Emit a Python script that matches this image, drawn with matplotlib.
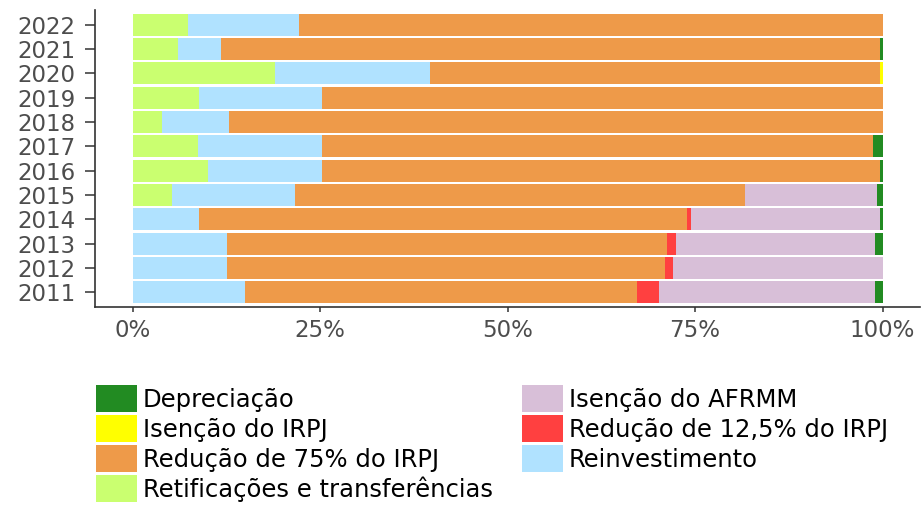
import matplotlib
matplotlib.use("Agg")
import matplotlib.pyplot as plt
from matplotlib.patches import Patch
import numpy as np

plt.rcParams['font.family'] = ['DejaVu Sans']

years = [2011, 2012, 2013, 2014, 2015, 2016, 2017, 2018, 2019, 2020, 2021, 2022]

# shares (%) per category, by year 2011..2022
retificacoes   = [0.0, 0.0, 0.0, 0.0, 5.2, 10.0, 8.7, 3.9, 8.9, 19.0, 6.0, 7.4]
reinvestimento = [15.0, 12.6, 12.6, 8.9, 16.4, 15.3, 16.6, 9.0, 16.4, 20.6, 5.8, 14.8]
reducao75      = [52.3, 58.4, 58.6, 65.0, 60.0, 74.4, 73.4, 87.1, 74.7, 60.1, 87.9, 77.8]
reducao125     = [2.9, 1.1, 1.2, 0.5, 0.0, 0.0, 0.0, 0.0, 0.0, 0.0, 0.0, 0.0]
isencao_irpj   = [0.0, 0.0, 0.0, 0.0, 0.0, 0.0, 0.0, 0.0, 0.0, 0.3, 0.0, 0.0]
isencao_afrmm  = [28.8, 27.9, 26.6, 25.3, 17.6, 0.0, 0.0, 0.0, 0.0, 0.0, 0.0, 0.0]
depreciacao    = [1.0, 0.0, 1.0, 0.3, 0.8, 0.3, 1.3, 0.0, 0.0, 0.0, 0.3, 0.0]

x_ticks = [0, 25, 50, 75, 100]
x_tick_labels = ["0%", "25%", "50%", "75%", "100%"]

# stacking order from left to right
series = [
    ("Retificações e transferências", retificacoes, "#CAFF70"),
    ("Reinvestimento", reinvestimento, "#B0E2FF"),
    ("Redução de 75% do IRPJ", reducao75, "#EE9A49"),
    ("Redução de 12,5% do IRPJ", reducao125, "#FF4040"),
    ("Isenção do IRPJ", isencao_irpj, "#FFFF00"),
    ("Isenção do AFRMM", isencao_afrmm, "#D8BFD8"),
    ("Depreciação", depreciacao, "#228B22"),
]
colors = {name: c for name, _, c in series}

W, H = 922, 507
fig = plt.figure(figsize=(W / 100, H / 100), dpi=100)
ax = fig.add_axes([95 / W, 1 - 307 / H, (920 - 95) / W, (307 - 10) / H])

ypos = np.arange(len(years))
left = np.zeros(len(years))
for name, vals, col in series:
    v = np.array(vals)
    ax.barh(ypos, v, left=left, height=0.9, color=col, linewidth=0)
    left += v

ax.set_xlim(-5, 105)
ax.set_ylim(-0.6, len(years) - 0.4)
ax.set_yticks(ypos)
ax.set_yticklabels([str(y) for y in years])
ax.set_xticks(x_ticks)
ax.set_xticklabels(x_tick_labels)

for s in ["top", "right"]:
    ax.spines[s].set_visible(False)
for s in ["left", "bottom"]:
    ax.spines[s].set_color("#333333")
    ax.spines[s].set_linewidth(1.2)

ax.tick_params(axis="y", length=7, width=1.1, color="#333333", pad=7,
               labelsize=16.5, labelcolor="#4D4D4D")
ax.tick_params(axis="x", length=3.6, width=1.1, color="#333333", pad=5,
               labelsize=16.5, labelcolor="#4D4D4D")

fs = 17.5
fs_px = fs * 100 / 72
key_h_pt = 27 * 72 / 100
handleheight = (key_h_pt / fs - 0.245) / 0.65
col1 = ["Depreciação", "Isenção do IRPJ", "Redução de 75% do IRPJ",
        "Retificações e transferências"]
col2 = ["Isenção do AFRMM", "Redução de 12,5% do IRPJ", "Reinvestimento"]

def make_legend(names, x_px, y_px):
    handles = [Patch(facecolor=colors[n], edgecolor="none", label=n) for n in names]
    leg = fig.legend(handles=handles, loc="upper left",
                     bbox_to_anchor=(x_px / W, 1 - y_px / H),
                     bbox_transform=fig.transFigure,
                     frameon=False, fontsize=fs, borderpad=0, borderaxespad=0,
                     handlelength=41 / fs_px, handleheight=handleheight,
                     handletextpad=6 / fs_px, labelspacing=3.0 / fs_px)
    return leg

make_legend(col1, 96, 385)
make_legend(col2, 522, 385)

fig.savefig("out.png", dpi=100)
